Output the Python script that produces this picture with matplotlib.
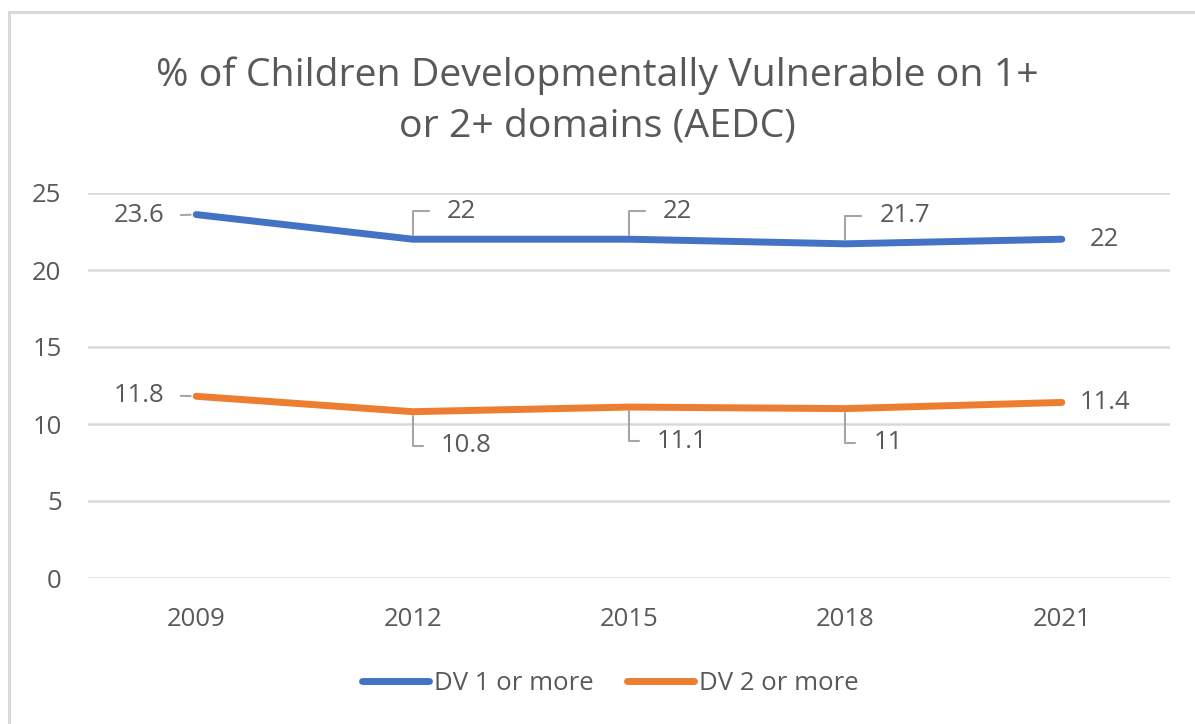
import matplotlib
matplotlib.use("Agg")
import matplotlib.pyplot as plt
from matplotlib.lines import Line2D

years = ["2009", "2012", "2015", "2018", "2021"]
dv1 = [23.6, 22, 22, 21.7, 22]
dv2 = [11.8, 10.8, 11.1, 11, 11.4]
series_names = ["DV 1 or more", "DV 2 or more"]
title = "% of Children Developmentally Vulnerable on 1+\nor 2+ domains (AEDC)"

FONT = "Open Sans"
TXT = "#595959"
BLUE = "#4472C4"
ORANGE = "#ED7D31"
GRID = "#D9D9D9"
LEAD = "#A6A6A6"
FS = 18.5

W, H = 1195, 724
fig = plt.figure(figsize=(W / 100, H / 100), dpi=100)
plt.rcParams["font.family"] = [FONT, "DejaVu Sans"]

# chart border (left & top visible)
fig.add_artist(Line2D([9 / W, 9 / W], [0, 1 - 12 / H], transform=fig.transFigure, color=GRID, lw=2.2))
fig.add_artist(Line2D([9 / W, 1], [1 - 12 / H, 1 - 12 / H], transform=fig.transFigure, color=GRID, lw=2.2))

ax = fig.add_axes([88 / W, 1 - 578 / H, (1170 - 88) / W, (578 - 193) / H])
x = list(range(len(years)))
ax.set_xlim(-0.5, len(years) - 0.5)
ax.set_ylim(0, 25)
ax.set_yticks([0, 5, 10, 15, 20, 25])
ax.set_xticks(x)
ax.set_xticklabels(years)
for s in ax.spines.values():
    s.set_visible(False)
ax.grid(axis="y", color=GRID, lw=1.8)
ax.set_axisbelow(True)
ax.tick_params(length=0, labelsize=FS, labelcolor=TXT)
ax.tick_params(axis="x", pad=21)
ax.tick_params(axis="y", pad=19)

l1, = ax.plot(x, dv1, color=BLUE, lw=5, solid_capstyle="round", solid_joinstyle="round", clip_on=False)
l2, = ax.plot(x, dv2, color=ORANGE, lw=5, solid_capstyle="round", solid_joinstyle="round", clip_on=False)

def lab(xi, yi, dx, dy, leader, ha="left"):
    kw = dict(xy=(xi, yi), xytext=(dx, dy), textcoords="offset pixels",
              ha=ha, va="center", fontsize=FS, color=TXT)
    if leader == "up" or leader == "down":
        kw["arrowprops"] = dict(arrowstyle="-", color=LEAD, lw=1.5,
                                connectionstyle="angle,angleA=0,angleB=90,rad=0",
                                relpos=(0, 0.5), shrinkA=11, shrinkB=3)
    elif leader == "left":
        kw["arrowprops"] = dict(arrowstyle="-", color=LEAD, lw=1.5,
                                relpos=(1, 0.5), shrinkA=10, shrinkB=4)
    ax.annotate(f"{yi:g}", **kw)

lab(0, dv1[0], -32, -1, "left", ha="right")
lab(1, dv1[1], 34, 28, "up")
lab(2, dv1[2], 34, 28, "up")
lab(3, dv1[3], 34, 28, "up")
lab(4, dv1[4], 28, 0, None)

lab(0, dv2[0], -32, 1, "left", ha="right")
lab(1, dv2[1], 28, -34, "down")
lab(2, dv2[2], 28, -34, "down")
lab(3, dv2[3], 28, -34, "down")
lab(4, dv2[4], 18, 0, None)

fig.text(597 / W, 1 - 101 / H, title, ha="center", va="center", fontsize=28.3,
         color=TXT, linespacing=1.42)

fig.legend([l1, l2], series_names, loc="center", bbox_to_anchor=(610 / W, 1 - 683 / H),
           ncol=2, frameon=False, fontsize=FS, labelcolor=TXT, handlelength=2.6,
           handletextpad=0.2, columnspacing=1.3)

fig.savefig("out.png", dpi=100)
